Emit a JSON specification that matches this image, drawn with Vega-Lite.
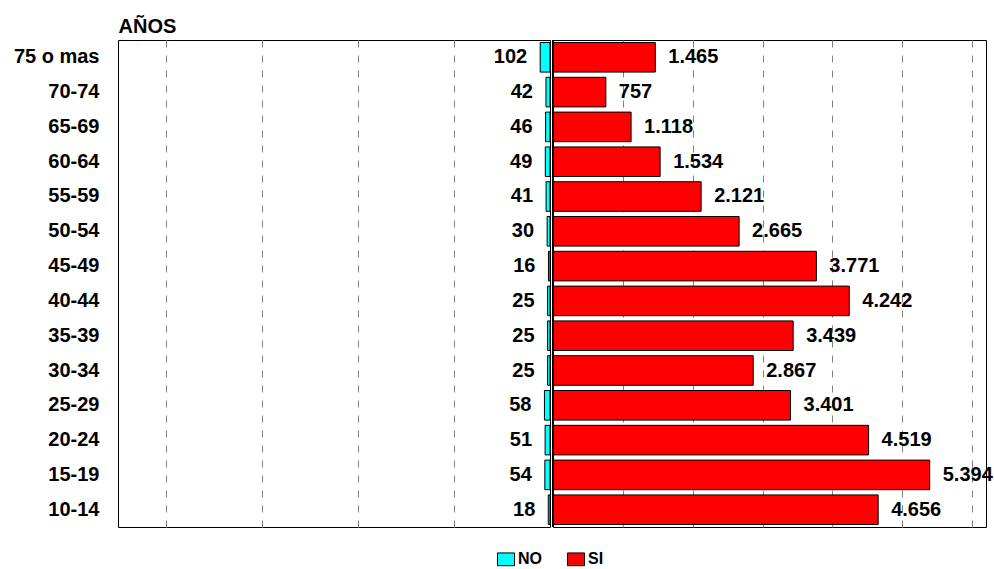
{
  "$schema": "https://vega.github.io/schema/vega-lite/v6.json",
  "padding": {"left": 12, "top": 15, "right": 9, "bottom": 2},
  "config": {
    "font": "Liberation Sans",
    "view": {"stroke": "#000", "strokeWidth": 1},
    "concat": {"spacing": 0},
    "locale": {"number": {"decimal": ",", "thousands": ".", "grouping": [3], "currency": ["", ""]}}
  },
  "data": {"values": [
    {"edad": "75 o mas", "serie": "NO", "valor": 102},
    {"edad": "70-74", "serie": "NO", "valor": 42},
    {"edad": "65-69", "serie": "NO", "valor": 46},
    {"edad": "60-64", "serie": "NO", "valor": 49},
    {"edad": "55-59", "serie": "NO", "valor": 41},
    {"edad": "50-54", "serie": "NO", "valor": 30},
    {"edad": "45-49", "serie": "NO", "valor": 16},
    {"edad": "40-44", "serie": "NO", "valor": 25},
    {"edad": "35-39", "serie": "NO", "valor": 25},
    {"edad": "30-34", "serie": "NO", "valor": 25},
    {"edad": "25-29", "serie": "NO", "valor": 58},
    {"edad": "20-24", "serie": "NO", "valor": 51},
    {"edad": "15-19", "serie": "NO", "valor": 54},
    {"edad": "10-14", "serie": "NO", "valor": 18},
    {"edad": "75 o mas", "serie": "SI", "valor": 1465},
    {"edad": "70-74", "serie": "SI", "valor": 757},
    {"edad": "65-69", "serie": "SI", "valor": 1118},
    {"edad": "60-64", "serie": "SI", "valor": 1534},
    {"edad": "55-59", "serie": "SI", "valor": 2121},
    {"edad": "50-54", "serie": "SI", "valor": 2665},
    {"edad": "45-49", "serie": "SI", "valor": 3771},
    {"edad": "40-44", "serie": "SI", "valor": 4242},
    {"edad": "35-39", "serie": "SI", "valor": 3439},
    {"edad": "30-34", "serie": "SI", "valor": 2867},
    {"edad": "25-29", "serie": "SI", "valor": 3401},
    {"edad": "20-24", "serie": "SI", "valor": 4519},
    {"edad": "15-19", "serie": "SI", "valor": 5394},
    {"edad": "10-14", "serie": "SI", "valor": 4656}
  ]},
  "hconcat": [
    {
      "width": 432,
      "height": 487,
      "transform": [{"filter": "datum.serie === 'NO'"}],
      "encoding": {
        "y": {
          "field": "edad", "type": "nominal", "sort": null,
          "scale": {"paddingInner": 0.15, "paddingOuter": 0.072},
          "axis": {
            "title": "AÑOS", "titleAngle": 0, "titleAlign": "left", "titleX": 0, "titleY": -8,
            "titleBaseline": "alphabetic", "titleFontSize": 20, "titleFontWeight": "bold", "titleColor": "#000",
            "labelFontSize": 20, "labelFontWeight": "bold", "labelColor": "#000",
            "ticks": false, "tickSize": 0, "labelPadding": 19, "domain": false
          }
        },
        "x": {
          "field": "valor", "type": "quantitative",
          "scale": {"domain": [0, 4500], "reverse": true, "nice": false},
          "axis": {
            "title": null, "labels": false, "ticks": false, "domain": false, "grid": true,
            "values": [1000, 2000, 3000, 4000], "gridColor": "#808080", "gridDash": [7, 8], "gridWidth": 1
          }
        }
      },
      "layer": [
        {
          "mark": {"type": "bar", "stroke": "#000", "strokeWidth": 1},
          "encoding": {
            "color": {
              "field": "serie", "type": "nominal",
              "scale": {"domain": ["NO", "SI"], "range": ["#00FFFF", "#FF0000"]},
              "legend": {
                "orient": "none", "legendX": 379, "legendY": 510, "direction": "horizontal", "title": null,
                "symbolType": "M-1,-0.75H1V0.75H-1Z", "symbolSize": 289, "symbolStrokeColor": "#000", "symbolStrokeWidth": 1,
                "labelFontSize": 16, "labelFontWeight": "bold", "labelColor": "#000", "labelOffset": 3, "columnPadding": 23
              }
            }
          }
        },
        {
          "mark": {"type": "text", "align": "right", "baseline": "middle", "dx": -13, "fontSize": 20, "fontWeight": "bold", "color": "#000"},
          "encoding": {"text": {"field": "valor", "type": "quantitative", "format": ",d"}}
        }
      ]
    },
    {
      "width": 433,
      "height": 487,
      "transform": [{"filter": "datum.serie === 'SI'"}],
      "layer": [
        {
          "mark": {"type": "bar", "stroke": "#000", "strokeWidth": 1},
          "encoding": {
            "y": {"field": "edad", "type": "nominal", "sort": null, "scale": {"paddingInner": 0.15, "paddingOuter": 0.072}, "axis": null},
            "x": {
              "field": "valor", "type": "quantitative",
              "scale": {"domain": [0, 6200], "nice": false},
              "axis": {
                "title": null, "labels": false, "ticks": false, "domain": false, "grid": true,
                "values": [1000, 2000, 3000, 4000, 5000, 6000], "gridColor": "#808080", "gridDash": [7, 8], "gridWidth": 1
              }
            },
            "color": {"field": "serie", "type": "nominal", "scale": {"domain": ["NO", "SI"], "range": ["#00FFFF", "#FF0000"]}}
          }
        },
        {
          "mark": {"type": "text", "align": "left", "baseline": "middle", "dx": 13, "fontSize": 20, "fontWeight": "bold", "color": "#000"},
          "encoding": {
            "y": {"field": "edad", "type": "nominal", "sort": null, "axis": null},
            "x": {"field": "valor", "type": "quantitative"},
            "text": {"field": "valor", "type": "quantitative", "format": ",d"}
          }
        },
        {
          "mark": {"type": "rule", "color": "#000", "strokeWidth": 2},
          "encoding": {"x": {"datum": 0}}
        }
      ]
    }
  ],
  "resolve": {"scale": {"x": "independent"}}
}
